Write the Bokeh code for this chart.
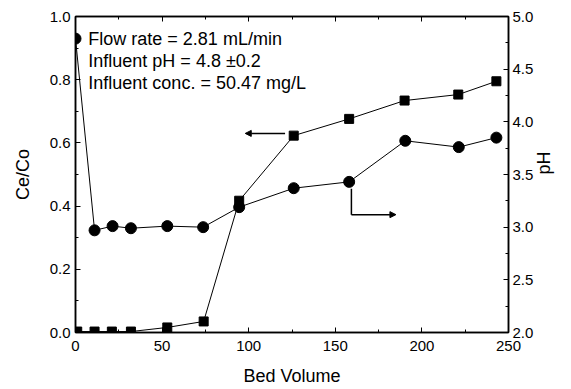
import math
from bokeh.plotting import figure
from bokeh.models import (Range1d, LinearAxis, FixedTicker, PrintfTickFormatter,
                          Label, Arrow, NormalHead)
from bokeh.embed import file_html
from bokeh.resources import INLINE

# data
bv_ce = [1, 11, 21, 32, 53, 74, 94.5, 126, 158, 190, 221, 243]
ce_co = [0.003, 0.003, 0.003, 0.003, 0.016, 0.035, 0.417, 0.623, 0.676, 0.734, 0.753, 0.795]
bv_ph = [0, 11, 21.4, 32, 53, 73.7, 94.5, 126, 158, 190.4, 221.3, 243]
ph = [4.79, 2.97, 3.01, 2.99, 3.01, 3.0, 3.19, 3.37, 3.43, 3.82, 3.76, 3.85]
notes = ["Flow rate = 2.81 mL/min", "Influent pH = 4.8 \u00b10.2", "Influent conc. = 50.47 mg/L"]

FONT = "Liberation Sans"

p = figure(width=571, height=389, output_backend="svg", toolbar_location=None,
           x_range=Range1d(0, 250), y_range=Range1d(0, 1.0),
           min_border_left=75, min_border_right=63, min_border_top=16, min_border_bottom=57)
p.extra_y_ranges = {"ph": Range1d(2.0, 5.0)}
p.grid.visible = False
p.outline_line_color = "black"
p.outline_line_width = 1.5
p.background_fill_color = "white"
p.border_fill_color = "white"

def style(ax, ticks, fmt=None):
    ax.ticker = FixedTicker(ticks=ticks[0], minor_ticks=ticks[1])
    ax.major_tick_in = 5
    ax.major_tick_out = 0
    ax.minor_tick_in = 3
    ax.minor_tick_out = 0
    ax.axis_line_color = "black"
    ax.axis_line_width = 1.5
    ax.major_tick_line_color = "black"
    ax.minor_tick_line_color = "black"
    ax.major_label_text_font = FONT
    ax.major_label_text_font_size = "15px"
    ax.major_label_text_color = "black"
    ax.axis_label_text_font = FONT
    ax.axis_label_text_font_size = "18px"
    ax.axis_label_text_font_style = "normal"
    ax.axis_label_text_color = "black"
    if fmt:
        ax.formatter = PrintfTickFormatter(format=fmt)

xt = ([0, 50, 100, 150, 200, 250], [25, 75, 125, 175, 225])
yt = ([0, 0.2, 0.4, 0.6, 0.8, 1.0], [0.1, 0.3, 0.5, 0.7, 0.9])
pt = ([2.0, 2.5, 3.0, 3.5, 4.0, 4.5, 5.0], [2.25, 2.75, 3.25, 3.75, 4.25, 4.75])

style(p.xaxis[0], xt)
p.xaxis[0].axis_label = "Bed Volume"
p.xaxis[0].major_label_standoff = 8
p.xaxis[0].axis_label_standoff = 12
style(p.yaxis[0], yt, "%.1f")
p.yaxis[0].axis_label = "Ce/Co"
p.yaxis[0].axis_label_standoff = 14

top = LinearAxis()
style(top, xt)
top.major_label_overrides = {t: "" for t in xt[0]}
p.add_layout(top, "above")

right = LinearAxis(y_range_name="ph", axis_label="pH")
style(right, pt, "%.1f")
right.major_label_standoff = 4
right.axis_label_standoff = 8
right.axis_label_orientation = math.pi / 2
p.add_layout(right, "right")

p.line(bv_ce, ce_co, line_color="black", line_width=1)
p.scatter(bv_ce, ce_co, marker="square", size=9, fill_color="black", line_color="black")
p.line(bv_ph, ph, line_color="black", line_width=1, y_range_name="ph")
p.scatter(bv_ph, ph, marker="circle", size=11, fill_color="black", line_color="black", y_range_name="ph")

for i, t in enumerate(notes):
    p.add_layout(Label(x=7.4, y=0.929 - i * 0.069, text=t, text_font=FONT, text_font_size="18px",
                       text_baseline="middle", text_color="black"))

p.add_layout(Arrow(x_start=121, y_start=0.63, x_end=98, y_end=0.63, line_width=1.5,
                   end=NormalHead(size=6, fill_color="black", line_color="black")))
p.segment(x0=[159.3], y0=[0.455], x1=[159.3], y1=[0.373], line_color="black", line_width=1.5)
p.add_layout(Arrow(x_start=159.3, y_start=0.373, x_end=185, y_end=0.373, line_width=1.5,
                   end=NormalHead(size=6, fill_color="black", line_color="black")))

open("out.html", "w").write(file_html(p, INLINE))
